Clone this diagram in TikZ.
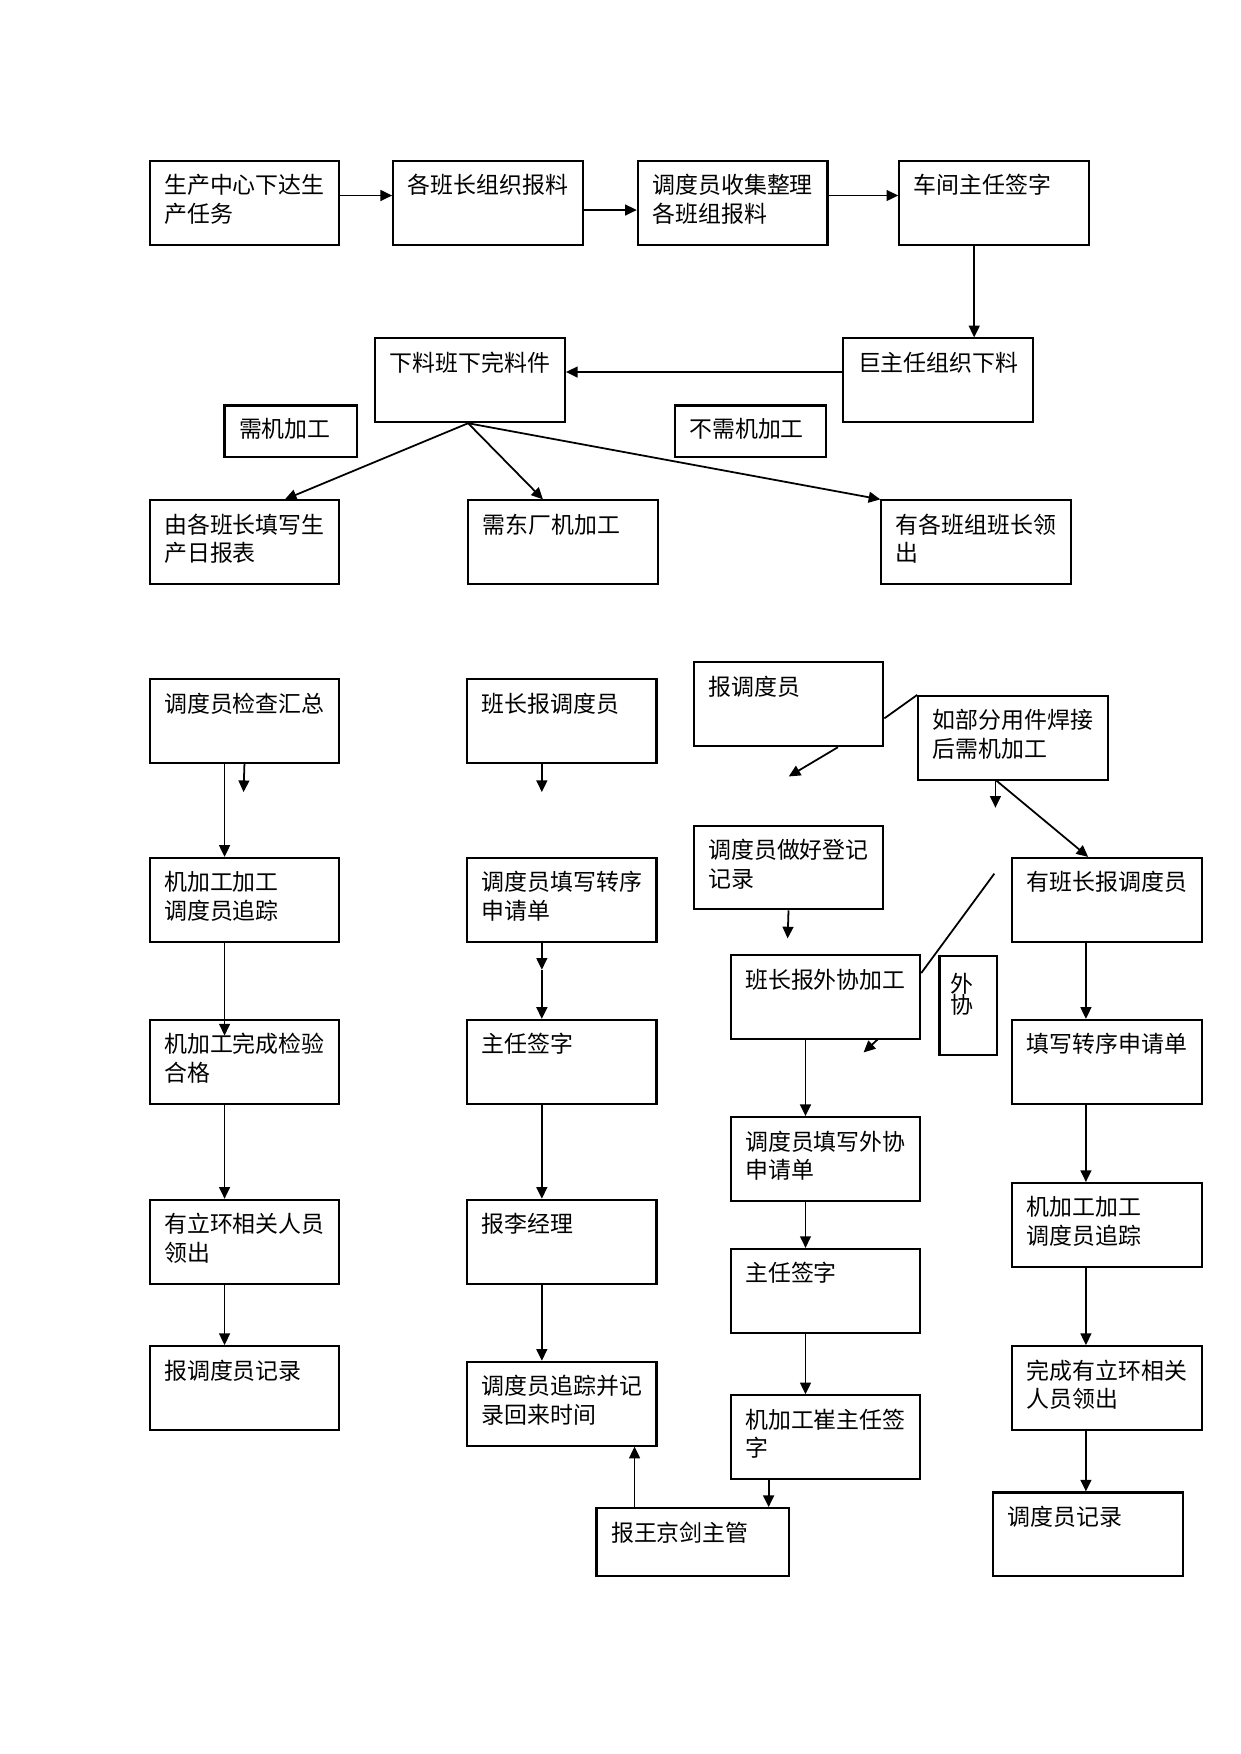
\documentclass[tikz,border=0pt]{standalone}
\usepackage{fontspec}
\newfontfamily\cjk{Noto Sans CJK SC}
\usetikzlibrary{arrows.meta}

\tikzset{
  stepbox/.style={draw, line width=1pt, anchor=north west, inner xsep=7pt, inner ysep=0pt,
    text width=77pt, text height=15.8pt, text depth=24.4pt, align=left,
    font=\cjk\fontsize{11pt}{13.7pt}\selectfont},
  tagbox/.style={stepbox, text width=#1, text height=15.3pt, text depth=9.3pt},
  flow/.style={->, line width=0.85pt},
}

\begin{document}
\begin{tikzpicture}[
>={Triangle[length=5.6pt,width=5.2pt]},
x=0.5362pt, y=-0.5362pt,
]
\useasboundingbox (0,0) rectangle (1110,1570);

% top row
\node[stepbox] (a1) at (133,143) {生产中心下达生\\产任务};
\node[stepbox] (a2) at (351,143) {各班长组织报料};
\node[stepbox] (a3) at (570,143) {调度员收集整理\\各班组报料};
\node[stepbox] (a4) at (804,143) {车间主任签字};

\node[stepbox] (b1) at (335,302) {下料班下完料件};
\node[stepbox] (b2) at (754,302) {巨主任组织下料};
\node[tagbox=49.8pt] (n1) at (200,362) {需机加工};
\node[tagbox=58.7pt] (n2) at (603,362) {不需机加工};

\node[stepbox] (c1) at (133,447) {由各班长填写生\\产日报表};
\node[stepbox] (c2) at (418,447) {需东厂机加工};
\node[stepbox] (c3) at (788,447) {有各班组班长领\\出};

% Arrows
\draw[flow] (a1.east |- 0,175) -- (a2.west |- 0,175);
\draw[flow] (a2.east |- 0,188) -- (a3.west |- 0,188);
\draw[flow] (a3.east |- 0,175) -- (a4.west |- 0,175);
\draw[flow] (a4.south -| 872,0) -- (b2.north -| 872,0);
\draw[flow] (b2.west |- 0,333) -- (b1.east |- 0,333);
\draw[flow] (b1.south -| 419,0) -- (c1.north -| 255,0);
\draw[flow] (b1.south -| 419,0) -- (c2.north -| 486,0);
\draw[flow] (b1.south -| 419,0) -- (c3.north west);

% left column
\node[stepbox] (l1) at (133,607) {调度员检查汇总};
\node[stepbox] (l2) at (133,767) {机加工加工\\调度员追踪};
\node[stepbox] (l3) at (133,912) {机加工完成检验\\合格};
\node[stepbox] (l4) at (133,1073) {有立环相关人员\\领出};
\node[stepbox] (l5) at (133,1204) {报调度员记录};
\coordinate (l1e) at (218,709);

\draw[flow] (l1.south) -- (l1e);
\draw[flow] (l1.south -| 201,0) -- (l2.north -| 201,0);
\draw[flow, shorten >=-8pt] (l2.south -| 201,0) -- (l3.north -| 201,0);
\draw[flow] (l3.south -| 201,0) -- (l4.north -| 201,0);
\draw[flow] (l4.south -| 201,0) -- (l5.north -| 201,0);

% middle column
\node[stepbox] (m1) at (417,607) {班长报调度员};
\node[stepbox] (m2) at (417,767) {调度员填写转序\\申请单};
\node[stepbox] (m3) at (417,912) {主任签字};
\node[stepbox] (m4) at (417,1073) {报李经理};
\node[stepbox] (m5) at (417,1218) {调度员追踪并记\\录回来时间};
\node[stepbox, text width=78.2pt, text depth=16.6pt] (wj) at (533,1349) {报王京剑主管};
\coordinate (m1e) at (485,709);
\coordinate (m2m) at (485,868);

\draw[flow] (m1.south -| 485,0) -- (m1e);
\draw[flow] (m2.south -| 485,0) -- (m2m);
\draw[flow] (m2m) -- (m3.north -| 485,0);
\draw[flow] (m3.south -| 485,0) -- (m4.north -| 485,0);
\draw[flow] (m4.south -| 485,0) -- (m5.north -| 485,0);
\draw[flow] (wj.north -| 568,0) -- (m5.south -| 568,0);

% right part
\node[stepbox] (r1) at (620,592) {报调度员};
\node[stepbox] (r1b) at (821,622) {如部分用件焊接\\后需机加工};
\node[stepbox] (r2) at (620,738) {调度员做好登记\\记录};
\node[stepbox] (r3) at (653,854) {班长报外协加工};
\node[stepbox, text width=17pt, inner xsep=5.4pt, text height=17.2pt, text depth=30pt,
  font=\cjk\fontsize{11pt}{10.2pt}\selectfont] (wx) at (840,855) {外\\协};
\node[stepbox] (r4) at (653,999) {调度员填写外协\\申请单};
\node[stepbox] (r5) at (653,1117) {主任签字};
\node[stepbox] (r6) at (653,1248) {机加工崔主任签\\字};
\coordinate (r1e) at (706,695);
\coordinate (r1be) at (891,723);
\coordinate (r2e) at (705,840);
\coordinate (r3x) at (890,782);
\coordinate (r3a) at (786,930);
\coordinate (r3b) at (773,942);

\draw[line width=0.85pt] (r1.east |- 0,643) -- (r1b.north west);
\draw[flow] (r1.south -| 750,0) -- (r1e);
\draw[flow] (r1b.south -| 891,0) -- (r1be);
\draw[flow] (r1b.south -| 892,0) -- (974,767);
\draw[flow] (r2.south) -- (r2e);
\draw[line width=0.85pt] (r3.east |- 0,871) -- (r3x);
\draw[flow] (r3a) -- (r3b);
\draw[flow] (r3.south -| 721,0) -- (r4.north -| 721,0);
\draw[flow] (r4.south -| 721,0) -- (r5.north -| 721,0);
\draw[flow] (r5.south -| 721,0) -- (r6.north -| 721,0);
\draw[flow] (r6.south -| 688,0) -- (wj.north -| 688,0);

% far right column
\node[stepbox] (f1) at (905,767) {有班长报调度员};
\node[stepbox] (f2) at (905,912) {填写转序申请单};
\node[stepbox] (f3) at (905,1058) {机加工加工\\调度员追踪};
\node[stepbox] (f4) at (905,1204) {完成有立环相关\\人员领出};
\node[stepbox] (f5) at (888,1335) {调度员记录};

\draw[flow] (f1.south -| 972,0) -- (f2.north -| 972,0);
\draw[flow] (f2.south -| 972,0) -- (f3.north -| 972,0);
\draw[flow] (f3.south -| 972,0) -- (f4.north -| 972,0);
\draw[flow] (f4.south -| 972,0) -- (f5.north -| 972,0);

\end{tikzpicture}
\end{document}
